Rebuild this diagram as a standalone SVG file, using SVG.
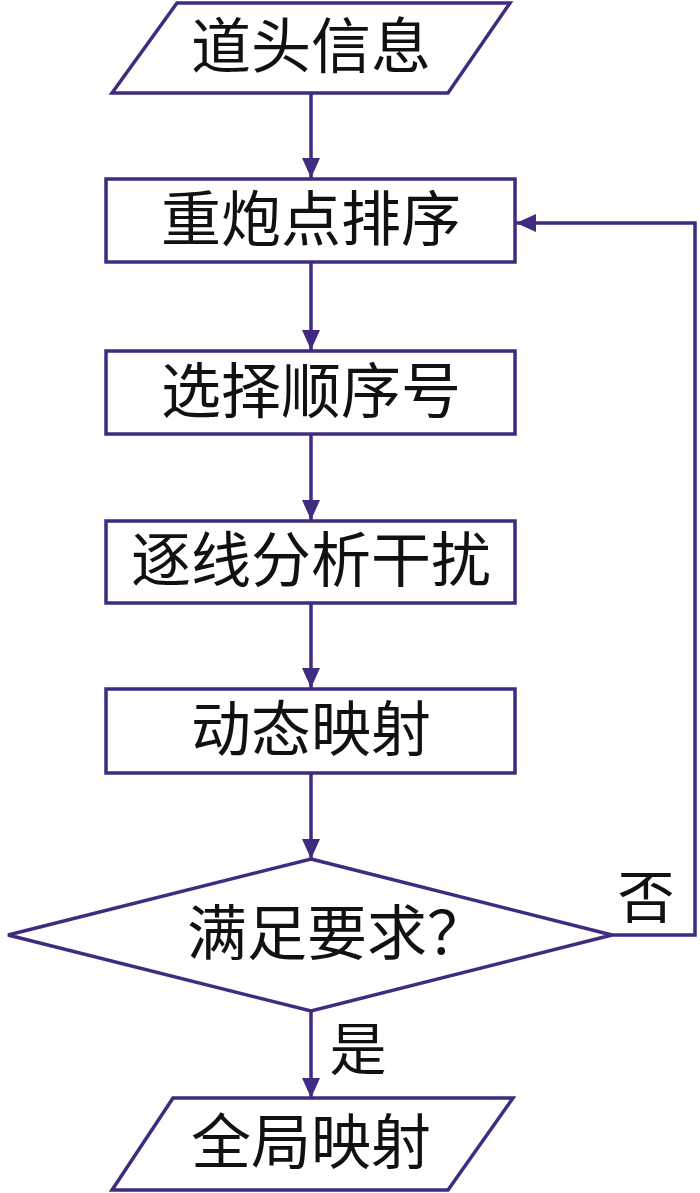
<svg xmlns="http://www.w3.org/2000/svg" width="700" height="1193" viewBox="0 0 700 1193">
<style>
.s{fill:#fff;stroke:#412b80;stroke-width:3.5}
.c{fill:none;stroke:#412b80;stroke-width:3.5}
.t{font-family:"Liberation Serif","Noto Sans CJK SC",serif;font-size:60px;fill:#111;text-anchor:middle;dominant-baseline:central}
</style>
<defs>
<marker id="ah" viewBox="0 0 20 18" refX="20" refY="9" markerWidth="20" markerHeight="18" markerUnits="userSpaceOnUse" orient="auto">
<path d="M0,0 L20,9 L0,18 Z" fill="#412b80"/>
</marker>
</defs>
<rect width="700" height="1193" fill="#fff"/>
<g id="connectors">
<line class="c" x1="311" y1="93" x2="311" y2="178" marker-end="url(#ah)"/>
<line class="c" x1="311" y1="262" x2="311" y2="350" marker-end="url(#ah)"/>
<line class="c" x1="311" y1="434" x2="311" y2="520" marker-end="url(#ah)"/>
<line class="c" x1="311" y1="603" x2="311" y2="688" marker-end="url(#ah)"/>
<line class="c" x1="311" y1="773" x2="311" y2="859" marker-end="url(#ah)"/>
<line class="c" x1="311" y1="1011" x2="311" y2="1098" marker-end="url(#ah)"/>
<polyline class="c" points="612,935 695,935 695,223 516,223" marker-end="url(#ah)"/>
<text class="t" x="358" y="1050" style="font-size:57px">是</text>
<text class="t" x="646" y="898" style="font-size:57px">否</text>
</g>
<g id="n1">
<polygon class="s" points="177,3 510,3 448,93 112,93"/>
<text class="t" x="311" y="48">道头信息</text>
</g>
<g id="n2">
<rect class="s" x="106" y="179" width="409" height="83"/>
<text class="t" x="311" y="221">重炮点排序</text>
</g>
<g id="n3">
<rect class="s" x="106" y="351" width="409" height="83"/>
<text class="t" x="311" y="393">选择顺序号</text>
</g>
<g id="n4">
<rect class="s" x="106" y="521" width="409" height="82"/>
<text class="t" x="311" y="562">逐线分析干扰</text>
</g>
<g id="n5">
<rect class="s" x="106" y="689" width="409" height="84"/>
<text class="t" x="311" y="731">动态映射</text>
</g>
<g id="n6">
<polygon class="s" points="311,859 612,935 311,1011 8,935"/>
<text class="t" x="187" y="935" style="text-anchor:start">满足要求？</text>
</g>
<g id="n7">
<polygon class="s" points="173,1098 513,1098 448,1190 112,1190"/>
<text class="t" x="311" y="1144">全局映射</text>
</g>
</svg>
